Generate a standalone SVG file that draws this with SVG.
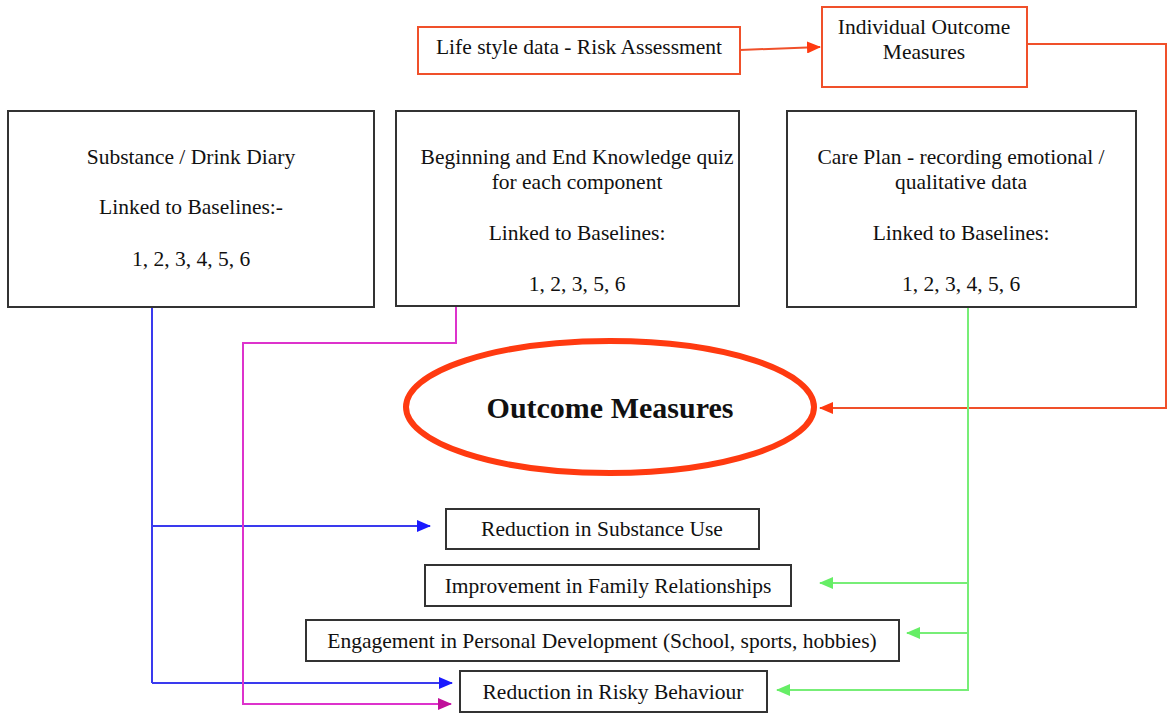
<svg xmlns="http://www.w3.org/2000/svg" width="1168" height="720" viewBox="0 0 1168 720">
<style>
.box{fill:#fff;stroke:#333;stroke-width:2}
.rbox{fill:#fff;stroke:#f0502a;stroke-width:2}
text{font-family:"Liberation Serif","Times New Roman",serif;font-size:21.5px;fill:#111;text-anchor:middle}
.big{font-size:30px;font-weight:bold}
.c{fill:none;stroke-width:2}
</style>
<defs>
<marker id="aRed" markerWidth="14" markerHeight="12" refX="13" refY="6" orient="auto" markerUnits="userSpaceOnUse"><path d="M0,0 L14,6 L0,12 z" fill="#ff3a10"/></marker>
<marker id="aBlue" markerWidth="14" markerHeight="12" refX="13" refY="6" orient="auto" markerUnits="userSpaceOnUse"><path d="M0,0 L14,6 L0,12 z" fill="#1a1aff"/></marker>
<marker id="aMag" markerWidth="14" markerHeight="12" refX="13" refY="6" orient="auto" markerUnits="userSpaceOnUse"><path d="M0,0 L14,6 L0,12 z" fill="#c0109a"/></marker>
<marker id="aGreen" markerWidth="14" markerHeight="12" refX="13" refY="6" orient="auto" markerUnits="userSpaceOnUse"><path d="M0,0 L14,6 L0,12 z" fill="#66ee66"/></marker>
</defs>
<rect width="1168" height="720" fill="#fff"/>

<g id="connectors">
<path class="c" stroke="#f0502a" d="M740,50 L820,47" marker-end="url(#aRed)"/>
<path class="c" stroke="#f0502a" d="M1027,44 H1166 V408 H820" marker-end="url(#aRed)"/>
<path class="c" stroke="#3a3aee" d="M152,307 V683"/>
<path class="c" stroke="#3a3aee" d="M152,526 H430" marker-end="url(#aBlue)"/>
<path class="c" stroke="#3a3aee" d="M152,683 H452" marker-end="url(#aBlue)"/>
<path class="c" stroke="#dd33cc" d="M456,307 V343 H243 V704 H451" marker-end="url(#aMag)"/>
<path class="c" stroke="#77ee77" d="M968,307 V690 H777" marker-end="url(#aGreen)"/>
<path class="c" stroke="#77ee77" d="M968,583 H820" marker-end="url(#aGreen)"/>
<path class="c" stroke="#77ee77" d="M968,633 H907" marker-end="url(#aGreen)"/>
</g>

<g id="lifestyle">
<rect class="rbox" x="418" y="27" width="322" height="47"/>
<text x="579" y="54">Life style data - Risk Assessment</text>
</g>
<g id="individual">
<rect class="rbox" x="822" y="7" width="205" height="80"/>
<text x="924" y="34">Individual Outcome</text>
<text x="924" y="59">Measures</text>
</g>

<g id="diary">
<rect class="box" x="8" y="111" width="366" height="196"/>
<text x="191" y="164">Substance / Drink Diary</text>
<text x="191" y="214">Linked to Baselines:-</text>
<text x="191" y="266">1, 2, 3, 4, 5, 6</text>
</g>
<g id="quiz">
<rect class="box" x="396" y="111" width="343" height="195"/>
<text x="577" y="164">Beginning and End Knowledge quiz</text>
<text x="577" y="189">for each component</text>
<text x="577" y="240">Linked to Baselines:</text>
<text x="577" y="291">1, 2, 3, 5, 6</text>
</g>
<g id="careplan">
<rect class="box" x="787" y="111" width="349" height="196"/>
<text x="961" y="164">Care Plan - recording emotional /</text>
<text x="961" y="189">qualitative data</text>
<text x="961" y="240">Linked to Baselines:</text>
<text x="961" y="291">1, 2, 3, 4, 5, 6</text>
</g>

<g id="outcome">
<ellipse cx="610" cy="407" rx="204" ry="66" fill="#fff" stroke="#ff3a10" stroke-width="6"/>
<text class="big" x="610" y="418">Outcome Measures</text>
</g>

<g id="substance">
<rect class="box" x="446" y="509" width="313" height="40"/>
<text x="602" y="536">Reduction in Substance Use</text>
</g>
<g id="family">
<rect class="box" x="425" y="565" width="366" height="41"/>
<text x="608" y="593">Improvement in Family Relationships</text>
</g>
<g id="engagement">
<rect class="box" x="306" y="620" width="593" height="41"/>
<text x="602" y="648">Engagement in Personal Development (School, sports, hobbies)</text>
</g>
<g id="risky">
<rect class="box" x="460" y="671" width="307" height="41"/>
<text x="613" y="699">Reduction in Risky Behaviour</text>
</g>
</svg>
